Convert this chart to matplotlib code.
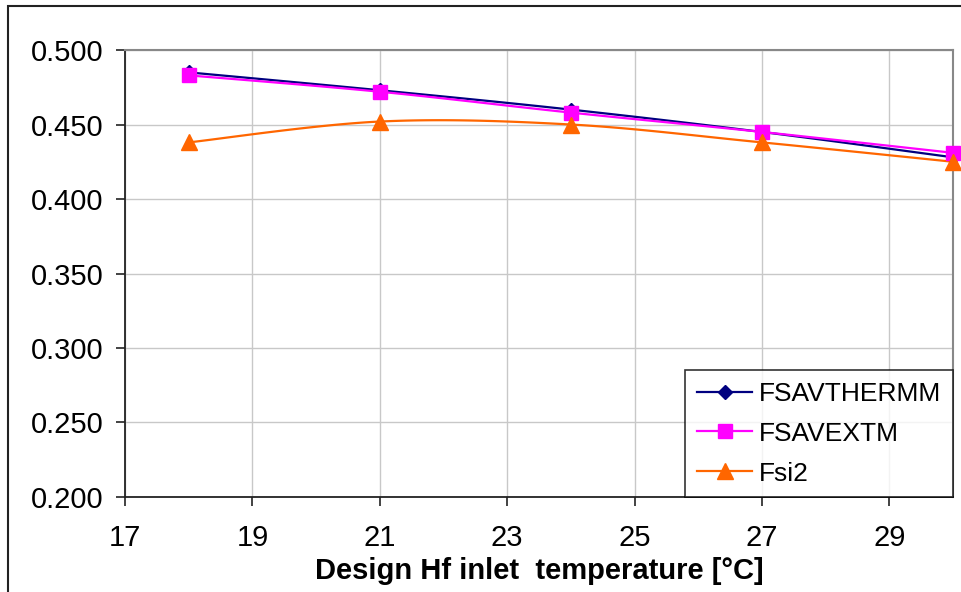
import numpy as np
import matplotlib.pyplot as plt
from matplotlib.patches import Rectangle
from matplotlib.lines import Line2D

plt.rcParams['font.family'] = ['Liberation Sans', 'DejaVu Sans']

# 数据
temps = [18, 21, 24, 27, 30]
fsavthermm = [0.485, 0.473, 0.460, 0.445, 0.428]
fsavextm = [0.483, 0.472, 0.458, 0.445, 0.431]
fsi2 = [0.438, 0.452, 0.450, 0.438, 0.425]

series_names = ['FSAVTHERMM', 'FSAVEXTM', 'Fsi2']
x_ticks = [17, 19, 21, 23, 25, 27, 29]
y_ticks = [0.200, 0.250, 0.300, 0.350, 0.400, 0.450, 0.500]


def smooth(xs, ys, sx=13.0, sy=0.3, n=30):
    '''
    Excel风格的平滑线 (Catmull-Rom)
    '''
    p = np.column_stack([np.asarray(xs) / sx, np.asarray(ys) / sy])
    p = np.vstack([p[0], p, p[-1]])
    out = []
    t = np.linspace(0, 1, n)[:, None]
    for i in range(1, len(p) - 2):
        p0, p1, p2, p3 = p[i - 1], p[i], p[i + 1], p[i + 2]
        c = 0.5 * ((2 * p1) + (-p0 + p2) * t + (2 * p0 - 5 * p1 + 4 * p2 - p3) * t ** 2
                   + (-p0 + 3 * p1 - 3 * p2 + p3) * t ** 3)
        out.append(c if i == 1 else c[1:])
    c = np.vstack(out)
    return c[:, 0] * sx, c[:, 1] * sy


fig = plt.figure(figsize=(9.62, 5.92), dpi=100)
ax = fig.add_axes([0.130, 0.1605, 0.8606, 0.755])

# 外边框
fig.patches.append(Rectangle((8 / 962, -0.05), 1.1, 1 - 6 / 592 + 0.05,
                             transform=fig.transFigure, fill=False,
                             edgecolor='#222222', lw=1.5))

styles = [
    dict(color='#000080', marker='D', ms=7),
    dict(color='#FF00FF', marker='s', ms=10),
    dict(color='#FF6600', marker='^', ms=11),
]
handles = []
for ys, name, st in zip([fsavthermm, fsavextm, fsi2], series_names, styles):
    sx_, sy_ = smooth(temps, ys)
    ax.plot(sx_, sy_, color=st['color'], lw=1.6, zorder=3, clip_on=False)
    ax.plot(temps, ys, ls='none', marker=st['marker'], ms=st['ms'],
            color=st['color'], zorder=4, clip_on=False)
    handles.append(Line2D([], [], color=st['color'], lw=1.6, marker=st['marker'],
                          ms=st['ms'], label=name))

ax.set_xlim(17, 30)
ax.set_ylim(0.2, 0.5)
ax.set_xticks(x_ticks)
ax.set_yticks(y_ticks)
ax.set_yticklabels(['%.3f' % v for v in y_ticks])
ax.tick_params(axis='both', labelsize=21, direction='out', length=6.5, width=1.2, color='#222222')
ax.tick_params(axis='y', pad=9)
ax.tick_params(axis='x', pad=13)
ax.grid(True, color='#c8c8c8', lw=1.0)
ax.set_axisbelow(True)

for s in ['left', 'bottom']:
    ax.spines[s].set_color('#222222')
    ax.spines[s].set_linewidth(1.3)
for s in ['top', 'right']:
    ax.spines[s].set_color('#888888')
    ax.spines[s].set_linewidth(1.5)

ax.set_xlabel('Design Hf inlet  temperature [°C]', fontsize=21, fontweight='bold', labelpad=3.5)

leg = ax.legend(handles=handles, loc='lower right', bbox_to_anchor=(1.0, -0.001),
                fontsize=19, frameon=True, fancybox=False, handlelength=2.1,
                labelspacing=0.6, borderpad=0.45, handletextpad=0.25, borderaxespad=0.0)
leg.get_frame().set_edgecolor('black')
leg.get_frame().set_linewidth(1.2)

fig.savefig('out.png', dpi=100)
